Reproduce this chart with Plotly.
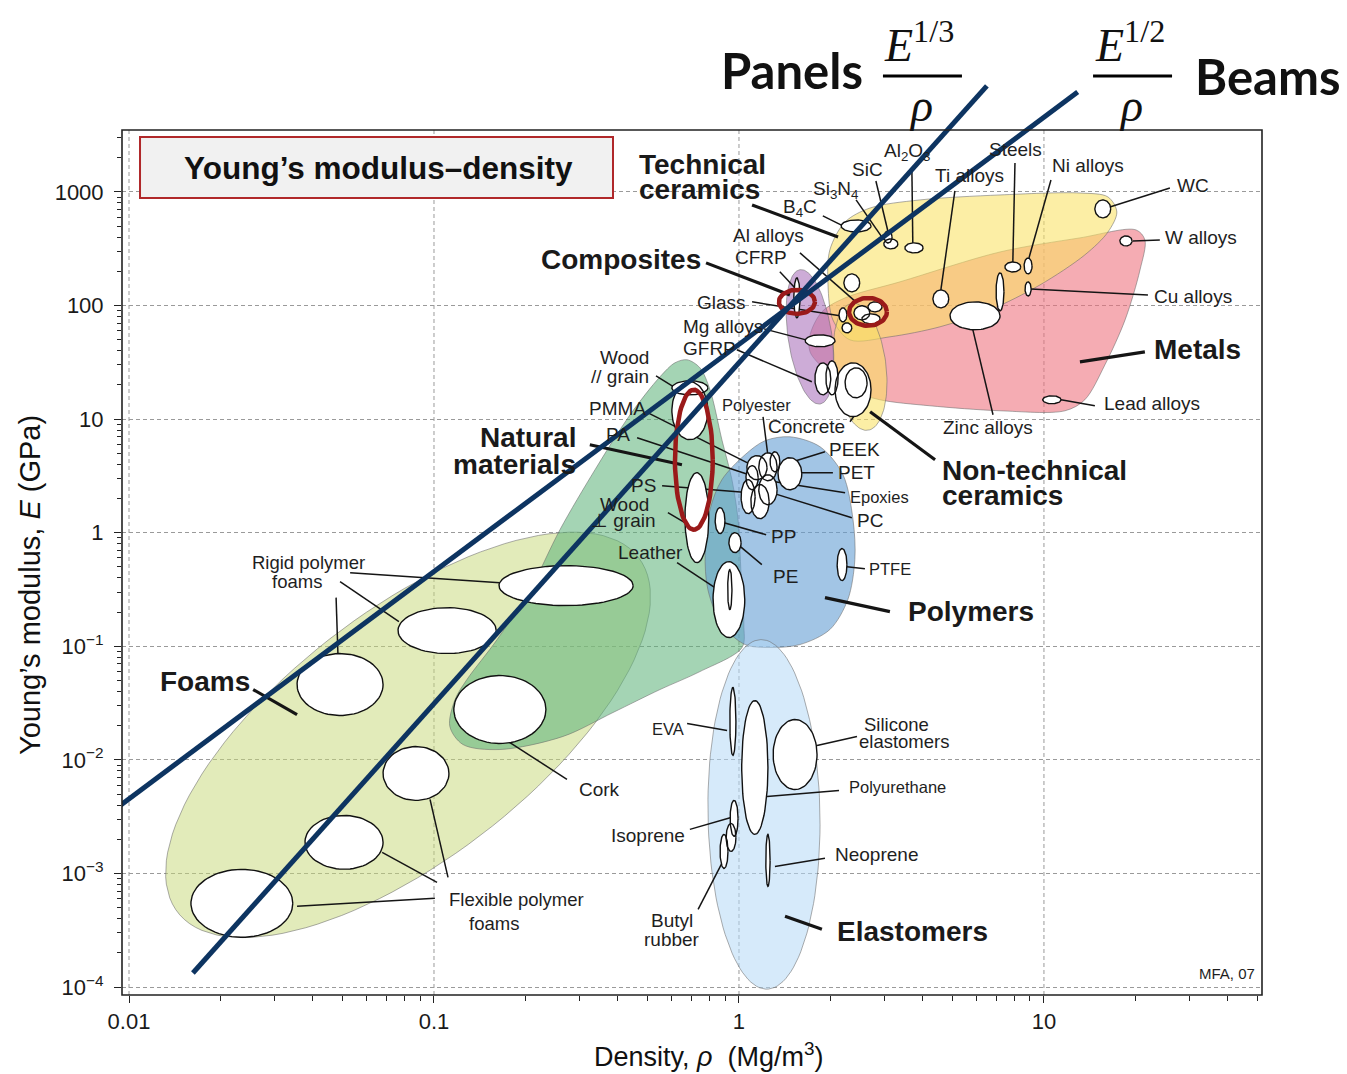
import numpy as np
import plotly.graph_objects as go

# ---------------- figure geometry ----------------
W, H = 1347, 1074
M_L, M_R, M_T, M_B = 122, 85, 20, 79
PLOT_W, PLOT_H = W - M_L - M_R, H - M_T - M_B

LOG_RHO_RANGE = [-2.023, 1.715]
LOG_E_RANGE = [-4.070, 4.513]
LOG_E_FRAME_TOP = 3.545
ASPECT = (PLOT_W / (LOG_RHO_RANGE[1] - LOG_RHO_RANGE[0])) / (PLOT_H / (LOG_E_RANGE[1] - LOG_E_RANGE[0]))

FONT = "Liberation Sans, Arial, sans-serif"

# ---------------- axes ----------------
X_TICKS = [0.01, 0.1, 1, 10]
X_TICK_TEXT = ["0.01", "0.1", "1", "10"]
Y_TICKS = [1e-4, 1e-3, 1e-2, 1e-1, 1, 10, 100, 1000]
Y_TICK_TEXT = ["10<sup>−4</sup>", "10<sup>−3</sup>", "10<sup>−2</sup>", "10<sup>−1</sup>",
               "1", "10", "100", "1000"]

# ---------------- family envelopes (log10 rho, log10 E) ----------------
# rotated ellipses: centre, semi-axes (in decades of E), angle (deg)
ell_family = ["Foams", "Elastomers", "Composites", "Non-technical ceramics"]
ell_log_rho = [-1.085, 0.082, 0.233, 0.397]
ell_log_E = [-1.780, -2.480, 1.724, 1.460]
ell_a = [2.56, 1.539, 0.598, 0.563]
ell_b = [1.09, 0.493, 0.193, 0.229]
ell_angle = [37.6, 91.0, 98.5, 97.0]

natural_log_rho = [-0.170, -0.128, -0.095, -0.056, -0.023, -0.003, 0.007, 0.016, 0.010, -0.128,
                   -0.259, -0.413, -0.577, -0.784, -0.905, -0.948, -0.931, -0.892, -0.793, -0.685,
                   -0.587, -0.472, -0.357, -0.259, -0.210]
natural_log_E = [1.522, 1.451, 1.258, 0.818, 0.466, 0.114, -0.369, -0.809, -1.011, -1.223,
                 -1.381, -1.583, -1.794, -1.909, -1.865, -1.706, -1.469, -1.293, -0.941, -0.501,
                 0.026, 0.554, 1.038, 1.372, 1.495]

polymer_log_rho = [0.167, 0.266, 0.341, 0.374, 0.380, 0.357, 0.298, 0.200, 0.102, 0.020,
                   -0.056, -0.102, -0.111, -0.095, -0.056, 0.020, 0.085]
polymer_log_E = [0.844, 0.756, 0.510, 0.114, -0.237, -0.589, -0.853, -0.985, -1.011, -0.985,
                 -0.809, -0.501, -0.176, 0.202, 0.466, 0.686, 0.809]

techcer_log_rho = [0.308, 0.292, 0.298, 0.348, 0.430, 0.593, 0.856, 1.118, 1.210, 1.239,
                   1.210, 1.134, 0.987, 0.823, 0.659, 0.495, 0.364]
techcer_log_E = [1.873, 2.181, 2.489, 2.735, 2.858, 2.929, 2.973, 2.990, 2.955, 2.823,
                 2.647, 2.445, 2.181, 1.961, 1.812, 1.724, 1.697]

metal_log_rho = [0.233, 0.272, 0.348, 0.528, 0.856, 1.118, 1.302, 1.331, 1.315, 1.266,
                 1.200, 1.134, 1.069, 0.856, 0.626, 0.462, 0.364, 0.282, 0.233]
metal_log_E = [1.741, 1.944, 2.067, 2.208, 2.471, 2.595, 2.665, 2.577, 2.313, 1.873,
               1.478, 1.170, 1.073, 1.073, 1.117, 1.170, 1.258, 1.434, 1.592]

# ---------------- material bubbles ----------------
bubble_name = ["Flexible foam A", "Flexible foam B", "Flexible foam C", "Rigid foam A", "Rigid foam B",
               "Rigid foam C", "Cork", "Wood // grain", "Wood // grain cap", "Wood ⊥ grain",
               "Leather", "Leather core", "PP", "PE", "PTFE", "PMMA", "PA", "Polyester", "PEEK",
               "PET", "Epoxies", "PC", "PS", "EVA", "Polyurethane", "Silicone elastomers",
               "Isoprene", "Butyl rubber A", "Butyl rubber B", "Neoprene", "CFRP", "Glass",
               "Al alloys A", "Al alloys B", "Al alloys C", "Glass ceramic", "Silica", "Mg alloys",
               "GFRP A", "GFRP B", "Concrete", "Stone", "B4C", "SiC", "Si3N4", "Al2O3", "Steels",
               "Ni alloys", "WC", "W alloys", "Cu alloys", "Lead alloys", "Ti alloys", "Zinc alloys",
               "Cast irons"]
bubble_log_rho = [-1.630, -1.295, -1.059, -1.308, -0.957, -0.567, -0.784, -0.161, -0.161, -0.138,
                  -0.033, -0.030, -0.062, -0.013, 0.338, 0.059, 0.043, 0.095, 0.118, 0.167,
                  0.095, 0.069, 0.030, -0.020, 0.052, 0.184, -0.016, -0.026, -0.049, 0.095,
                  0.190, 0.341, 0.403, 0.446, 0.433, 0.354, 0.370, 0.266, 0.275, 0.305,
                  0.374, 0.384, 0.384, 0.489, 0.498, 0.574, 0.898, 0.948, 1.193, 1.269,
                  0.948, 1.026, 0.662, 0.774, 0.856]
bubble_log_E = [-3.263, -2.726, -2.120, -1.337, -0.862, -0.466, -1.557, 1.073, 1.275, 0.132,
                -0.589, -0.501, 0.106, -0.088, -0.281, 0.572, 0.484, 0.580, 0.624, 0.519,
                0.378, 0.273, 0.317, -1.662, -2.067, -1.953, -2.515, -2.683, -2.806, -2.885,
                2.067, 1.917, 1.935, 1.988, 1.882, 1.803, 2.199, 1.689, 1.354, 1.363,
                1.258, 1.319, 2.700, 2.603, 2.542, 2.507, 2.339, 2.348, 2.850, 2.568,
                2.146, 1.170, 2.058, 1.909, 2.120]
bubble_dlog_rho = [0.167, 0.128, 0.108, 0.141, 0.161, 0.220, 0.151, 0.059, 0.059, 0.039,
                   0.052, 0.007, 0.016, 0.020, 0.016, 0.033, 0.020, 0.030, 0.016, 0.039,
                   0.030, 0.030, 0.023, 0.010, 0.043, 0.072, 0.013, 0.016, 0.013, 0.007,
                   0.010, 0.013, 0.026, 0.023, 0.030, 0.016, 0.026, 0.049, 0.026, 0.020,
                   0.059, 0.036, 0.049, 0.013, 0.023, 0.030, 0.026, 0.013, 0.026, 0.020,
                   0.010, 0.030, 0.026, 0.082, 0.013]
bubble_dlog_E = [0.299, 0.237, 0.237, 0.273, 0.202, 0.176, 0.299, 0.255, 0.062, 0.396,
                 0.334, 0.176, 0.114, 0.088, 0.141, 0.106, 0.106, 0.123, 0.088, 0.141,
                 0.132, 0.150, 0.150, 0.299, 0.589, 0.308, 0.158, 0.123, 0.150, 0.229,
                 0.176, 0.062, 0.062, 0.044, 0.044, 0.044, 0.079, 0.053, 0.141, 0.150,
                 0.237, 0.132, 0.053, 0.053, 0.044, 0.044, 0.044, 0.070, 0.079, 0.044,
                 0.062, 0.035, 0.079, 0.123, 0.167]

# highlighted candidates (red rings)
ring_log_rho = [0.190, 0.423, -0.148]
ring_log_E = [2.032, 1.944, 0.642]
ring_dlog_rho = [0.059, 0.062, 0.062]
ring_dlog_E = [0.106, 0.123, 0.616]

# ---------------- material indices (guide lines) ----------------
PANEL_INDEX = 3.15      # E^(1/3)/rho
PANEL_RHO = [0.0162, 6.5]
BEAM_INDEX = 6.74       # E^(1/2)/rho
BEAM_RHO = [0.00934, 12.9]

# ---------------- labels ----------------
family_labels = [
    ("Technical", -0.334, 3.237, "left"), ("ceramics", -0.334, 3.017, "left"),
    ("Composites", -0.118, 2.401, "right"),
    ("Natural", -0.528, 0.836, "right"), ("materials", -0.528, 0.598, "right"),
    ("Foams", -1.905, -1.310, "left"),
    ("Polymers", 0.548, -0.695, "left"),
    ("Elastomers", 0.315, -3.509, "left"),
    ("Metals", 1.354, 1.610, "left"),
    ("Non-technical", 0.659, 0.545, "left"), ("ceramics", 0.659, 0.325, "left"),
]
family_pointers = [
    (0.043, 2.885, 0.325, 2.603), (-0.108, 2.375, 0.167, 2.093), (-0.489, 0.774, -0.187, 0.598),
    (-1.593, -1.381, -1.449, -1.601), (0.282, -0.572, 0.495, -0.695), (0.151, -3.377, 0.272, -3.492),
    (1.118, 1.504, 1.331, 1.592), (0.430, 1.064, 0.643, 0.642),
]
material_labels = [
    ("Al<sub>2</sub>O<sub>3</sub>", 0.554, 3.351, "center", 19),
    ("SiC", 0.420, 3.193, "center", 19),
    ("Si<sub>3</sub>N<sub>4</sub>", 0.318, 3.017, "center", 19),
    ("B<sub>4</sub>C", 0.200, 2.858, "center", 19),
    ("Steels", 0.908, 3.369, "center", 19),
    ("Ti alloys", 0.757, 3.140, "center", 19),
    ("Ni alloys", 1.144, 3.228, "center", 19),
    ("WC", 1.430, 3.052, "left", 19),
    ("W alloys", 1.390, 2.595, "left", 19),
    ("Cu alloys", 1.354, 2.076, "left", 19),
    ("Lead alloys", 1.190, 1.135, "left", 19),
    ("Zinc alloys", 0.816, 0.923, "center", 19),
    ("Al alloys", 0.098, 2.612, "center", 19),
    ("CFRP", 0.072, 2.419, "center", 19),
    ("Glass", 0.030, 2.023, "right", 19),
    ("Mg alloys", 0.085, 1.812, "right", 19),
    ("GFRP", -0.003, 1.618, "right", 19),
    ("Wood", -0.289, 1.539, "right", 19),
    ("// grain", -0.289, 1.372, "right", 19),
    ("PMMA", -0.298, 1.091, "right", 19),
    ("PA", -0.351, 0.862, "right", 19),
    ("PS", -0.266, 0.413, "right", 19),
    ("Wood", -0.289, 0.246, "right", 19),
    ("⊥ grain", -0.266, 0.106, "right", 19),
    ("Leather", -0.177, -0.176, "right", 19),
    ("Polyester", -0.062, 1.126, "left", 16.5),
    ("Concrete", 0.089, 0.932, "left", 19),
    ("PEEK", 0.289, 0.730, "left", 19),
    ("PET", 0.318, 0.528, "left", 19),
    ("Epoxies", 0.357, 0.317, "left", 16.5),
    ("PC", 0.380, 0.106, "left", 19),
    ("PP", 0.098, -0.035, "left", 19),
    ("PE", 0.105, -0.387, "left", 19),
    ("PTFE", 0.420, -0.317, "left", 16.5),
    ("Rigid polymer", -1.413, -0.264, "center", 18.5),
    ("foams", -1.449, -0.431, "center", 18.5),
    ("Cork", -0.456, -2.260, "center", 19),
    ("Flexible polymer", -0.731, -3.228, "center", 18.5),
    ("foams", -0.803, -3.439, "center", 18.5),
    ("EVA", -0.233, -1.724, "center", 16.5),
    ("Silicone", 0.518, -1.689, "center", 18.5),
    ("elastomers", 0.541, -1.838, "center", 18.5),
    ("Polyurethane", 0.354, -2.243, "left", 16.5),
    ("Isoprene", -0.298, -2.665, "center", 19),
    ("Neoprene", 0.308, -2.832, "left", 19),
    ("Butyl", -0.220, -3.412, "center", 19),
    ("rubber", -0.220, -3.580, "center", 19),
    ("MFA, 07", 1.698, -3.879, "right", 15),
]
material_pointers = [
    (0.567, 3.193, 0.570, 2.551), (0.449, 3.096, 0.489, 2.647), (0.384, 2.929, 0.475, 2.577),
    (0.275, 2.788, 0.341, 2.700), (0.905, 3.254, 0.898, 2.383), (0.708, 3.008, 0.662, 2.137),
    (1.023, 3.105, 0.951, 2.419), (1.413, 3.034, 1.216, 2.867), (1.380, 2.577, 1.292, 2.568),
    (1.341, 2.093, 0.957, 2.146), (1.167, 1.117, 1.056, 1.170), (0.833, 1.038, 0.767, 1.785),
    (0.200, 2.463, 0.387, 2.023), (0.134, 2.296, 0.190, 2.137), (0.043, 2.032, 0.331, 1.909),
    (0.082, 1.794, 0.220, 1.697), (-0.007, 1.610, 0.239, 1.328), (-0.272, 1.381, -0.161, 1.196),
    (-0.298, 1.055, 0.059, 0.572), (-0.334, 0.836, 0.043, 0.501), (-0.252, 0.413, 0.036, 0.352),
    (-0.233, 0.176, -0.161, 0.062), (-0.203, -0.264, -0.069, -0.501), (0.079, 1.020, 0.095, 0.677),
    (0.364, 0.976, 0.397, 1.099), (0.282, 0.712, 0.134, 0.589), (0.308, 0.528, 0.167, 0.528),
    (0.348, 0.352, 0.118, 0.449), (0.370, 0.132, 0.095, 0.361), (0.089, -0.018, -0.049, 0.088),
    (0.075, -0.281, -0.003, -0.106), (0.413, -0.317, 0.354, -0.299),
    (-1.321, -0.572, -1.315, -1.064), (-1.308, -0.431, -1.115, -0.783), (-1.275, -0.352, -0.784, -0.440),
    (-0.564, -2.172, -0.777, -1.803), (-0.997, -3.219, -1.449, -3.289), (-0.990, -3.078, -1.170, -2.814),
    (-0.954, -3.034, -1.013, -2.348), (-0.170, -1.680, -0.039, -1.741), (0.387, -1.794, 0.256, -1.873),
    (0.328, -2.269, 0.092, -2.322), (-0.161, -2.612, -0.026, -2.507), (0.282, -2.867, 0.118, -2.938),
    (-0.134, -3.316, -0.046, -2.858),
]

# ---------------- helpers ----------------
def ellipse(lx, ly, dlx, dly, n=72):
    t = np.linspace(0, 2 * np.pi, n)
    return 10 ** (lx + dlx * np.cos(t)), 10 ** (ly + dly * np.sin(t))


def rot_ellipse(lx, ly, a, b, ang, n=120):
    t = np.linspace(0, 2 * np.pi, n)
    th = np.deg2rad(ang)
    u, v = a * np.cos(t), b * np.sin(t)
    dx = u * np.cos(th) - v * np.sin(th)
    dy = u * np.sin(th) + v * np.cos(th)
    return 10 ** (lx + dx / ASPECT), 10 ** (ly + dy)


def closed(lr, le):
    lr = list(lr) + [lr[0]]
    le = list(le) + [le[0]]
    return [10 ** v for v in lr], [10 ** v for v in le]


EDGE = dict(color="rgba(105,105,105,0.55)", width=1)
fig = go.Figure()

# vertical dashed grid lines, stopping at the frame top
for xv in X_TICKS:
    fig.add_trace(go.Scatter(x=[xv, xv], y=[10 ** LOG_E_RANGE[0], 10 ** LOG_E_FRAME_TOP], mode="lines",
                             line=dict(color="#9a9a9a", width=1, dash="4px,3px"), hoverinfo="skip"))

fam_colors = {
    "Foams": "rgba(198,216,118,0.50)",
    "Natural": "rgba(92,178,122,0.56)",
    "Polymers": "rgba(100,158,212,0.60)",
    "Elastomers": "rgba(180,216,245,0.55)",
    "Metals": "rgba(238,112,124,0.58)",
    "Technical ceramics": "rgba(250,226,100,0.58)",
    "Non-technical ceramics": "rgba(250,226,100,0.58)",
    "Composites": "rgba(172,116,188,0.60)",
}


def add_ellipse_family(i, name):
    x, y = rot_ellipse(ell_log_rho[i], ell_log_E[i], ell_a[i], ell_b[i], ell_angle[i])
    fig.add_trace(go.Scatter(x=x, y=y, mode="lines", fill="toself", fillcolor=fam_colors[name],
                             line=EDGE, hoverinfo="skip"))


def add_poly_family(lr, le, name):
    x, y = closed(lr, le)
    fig.add_trace(go.Scatter(x=x, y=y, mode="lines", fill="toself", fillcolor=fam_colors[name],
                             line=dict(shape="spline", smoothing=0.9, **EDGE), hoverinfo="skip"))


add_ellipse_family(0, "Foams")
add_poly_family(natural_log_rho, natural_log_E, "Natural")
add_poly_family(polymer_log_rho, polymer_log_E, "Polymers")
add_ellipse_family(1, "Elastomers")
add_poly_family(metal_log_rho, metal_log_E, "Metals")
add_poly_family(techcer_log_rho, techcer_log_E, "Technical ceramics")
add_ellipse_family(3, "Non-technical ceramics")
add_ellipse_family(2, "Composites")


# leader lines
def seg_trace(segs, width):
    xs, ys = [], []
    for (a, b, c, d) in segs:
        xs += [10 ** a, 10 ** c, None]
        ys += [10 ** b, 10 ** d, None]
    return go.Scatter(x=xs, y=ys, mode="lines", line=dict(color="#151515", width=width), hoverinfo="skip")


fig.add_trace(seg_trace(material_pointers, 1.5))
fig.add_trace(seg_trace(family_pointers, 3.2))

# material bubbles
bx, by = [], []
for i in range(len(bubble_name)):
    x, y = ellipse(bubble_log_rho[i], bubble_log_E[i], bubble_dlog_rho[i], bubble_dlog_E[i])
    bx += list(x) + [None]
    by += list(y) + [None]
fig.add_trace(go.Scatter(x=bx, y=by, mode="lines", fill="toself", fillcolor="white",
                         line=dict(color="#111111", width=1.4), hoverinfo="skip"))

# red highlight rings
rx, ry = [], []
for i in range(len(ring_log_rho)):
    x, y = ellipse(ring_log_rho[i], ring_log_E[i], ring_dlog_rho[i], ring_dlog_E[i])
    rx += list(x) + [None]
    ry += list(y) + [None]
fig.add_trace(go.Scatter(x=rx, y=ry, mode="lines", line=dict(color="#9a1a1a", width=4.5), hoverinfo="skip"))

# index guide lines
rho_p = np.geomspace(PANEL_RHO[0], PANEL_RHO[1], 50)
fig.add_trace(go.Scatter(x=rho_p, y=(PANEL_INDEX * rho_p) ** 3, mode="lines",
                         line=dict(color="#0d3461", width=5), hoverinfo="skip"))
rho_b = np.geomspace(BEAM_RHO[0], BEAM_RHO[1], 50)
fig.add_trace(go.Scatter(x=rho_b, y=(BEAM_INDEX * rho_b) ** 2, mode="lines",
                         line=dict(color="#0d3461", width=5), hoverinfo="skip"))

# ---------------- annotations ----------------
ann = []
for (t, lx, ly, anc) in family_labels:
    ann.append(dict(x=lx, y=ly, xref="x", yref="y", text=f"<b>{t}</b>", showarrow=False,
                    xanchor=anc, yanchor="middle", font=dict(size=28, family=FONT, color="#1a1a1a")))
for (t, lx, ly, anc, sz) in material_labels:
    ann.append(dict(x=lx, y=ly, xref="x", yref="y", text=t, showarrow=False,
                    xanchor=anc, yanchor="middle", font=dict(size=sz, family=FONT, color="#1e1e1e")))

frame_top = (LOG_E_FRAME_TOP - LOG_E_RANGE[0]) / (LOG_E_RANGE[1] - LOG_E_RANGE[0])


def paper_text(x, y, text, size, family, angle=0):
    return dict(x=x, y=y, xref="paper", yref="paper", text=text, showarrow=False,
                xanchor="center", yanchor="middle", textangle=angle,
                font=dict(size=size, family=family, color="#111111"))


HEAD = "Lato, Open Sans, sans-serif"
SERIF = "Liberation Serif, DejaVu Serif, serif"
ann += [
    paper_text(0.2246, 0.8482, "<b>Young’s modulus–density</b>", 31.5, FONT),
    paper_text(-0.0807, 0.4205, "Young’s modulus, <i>E</i> (GPa)", 29, FONT, -90),
    paper_text(0.515, -0.0615, "Density, <i>ρ</i>  (Mg/m<sup>3</sup>)", 27, FONT),
    paper_text(0.5877, 0.9487, "<b>Panels</b>", 49, HEAD),
    paper_text(1.0053, 0.9426, "<b>Beams</b>", 49, HEAD),
    paper_text(0.6990, 0.9774, "<i>E</i><sup>1/3</sup>", 46, SERIF),
    paper_text(0.7009, 0.9128, "<i>ρ</i>", 46, SERIF),
    paper_text(0.8840, 0.9774, "<i>E</i><sup>1/2</sup>", 46, SERIF),
    paper_text(0.8851, 0.9128, "<i>ρ</i>", 46, SERIF),
]

shapes = [
    dict(type="rect", xref="paper", yref="paper", x0=0, x1=1, y0=0, y1=frame_top,
         line=dict(color="#222", width=1.6), fillcolor="rgba(0,0,0,0)", layer="above"),
    dict(type="rect", xref="paper", yref="paper", x0=0.0158, x1=0.4307, y0=0.8174, y1=0.88,
         line=dict(color="#b0282a", width=2), fillcolor="#f1f1f1", layer="above"),
    dict(type="line", xref="paper", yref="paper", x0=0.6675, x1=0.7368, y0=0.9426, y1=0.9426,
         line=dict(color="black", width=3)),
    dict(type="line", xref="paper", yref="paper", x0=0.8518, x1=0.9211, y0=0.9426, y1=0.9426,
         line=dict(color="black", width=3)),
]

x_minor = [k * 10.0 ** d for d in range(-2, 2) for k in range(2, 10)] + [20, 30, 40, 50]
y_minor = [k * 10.0 ** d for d in range(-4, 3) for k in range(2, 10)] + [2000, 3000]

fig.update_layout(
    width=W, height=H,
    margin=dict(l=M_L, r=M_R, t=M_T, b=M_B),
    paper_bgcolor="white", plot_bgcolor="white",
    showlegend=False,
    annotations=ann, shapes=shapes,
    xaxis=dict(type="log", range=LOG_RHO_RANGE, tickmode="array", tickvals=X_TICKS, ticktext=X_TICK_TEXT,
               ticks="outside", ticklen=7, tickwidth=1.3, tickcolor="#222", showgrid=False,
               zeroline=False, showline=False, tickfont=dict(size=22, family=FONT, color="#1a1a1a"),
               minor=dict(tickmode="array", tickvals=x_minor, ticks="outside", ticklen=5,
                          tickwidth=1, tickcolor="#222", showgrid=False)),
    yaxis=dict(type="log", range=LOG_E_RANGE, tickmode="array", tickvals=Y_TICKS, ticktext=Y_TICK_TEXT,
               ticks="outside", ticklen=7, tickwidth=1.3, tickcolor="#222", showgrid=True,
               gridcolor="#9a9a9a", griddash="4px,3px", gridwidth=1, zeroline=False, showline=False,
               ticklabelstandoff=6,
               tickfont=dict(size=22, family=FONT, color="#1a1a1a"),
               minor=dict(tickmode="array", tickvals=y_minor, ticks="outside", ticklen=4,
                          tickwidth=1, tickcolor="#222", showgrid=False)),
)

fig.write_html("out.html", config={"displayModeBar": False},
               post_script="document.body.style.margin='0px';document.body.style.overflow='hidden';")
